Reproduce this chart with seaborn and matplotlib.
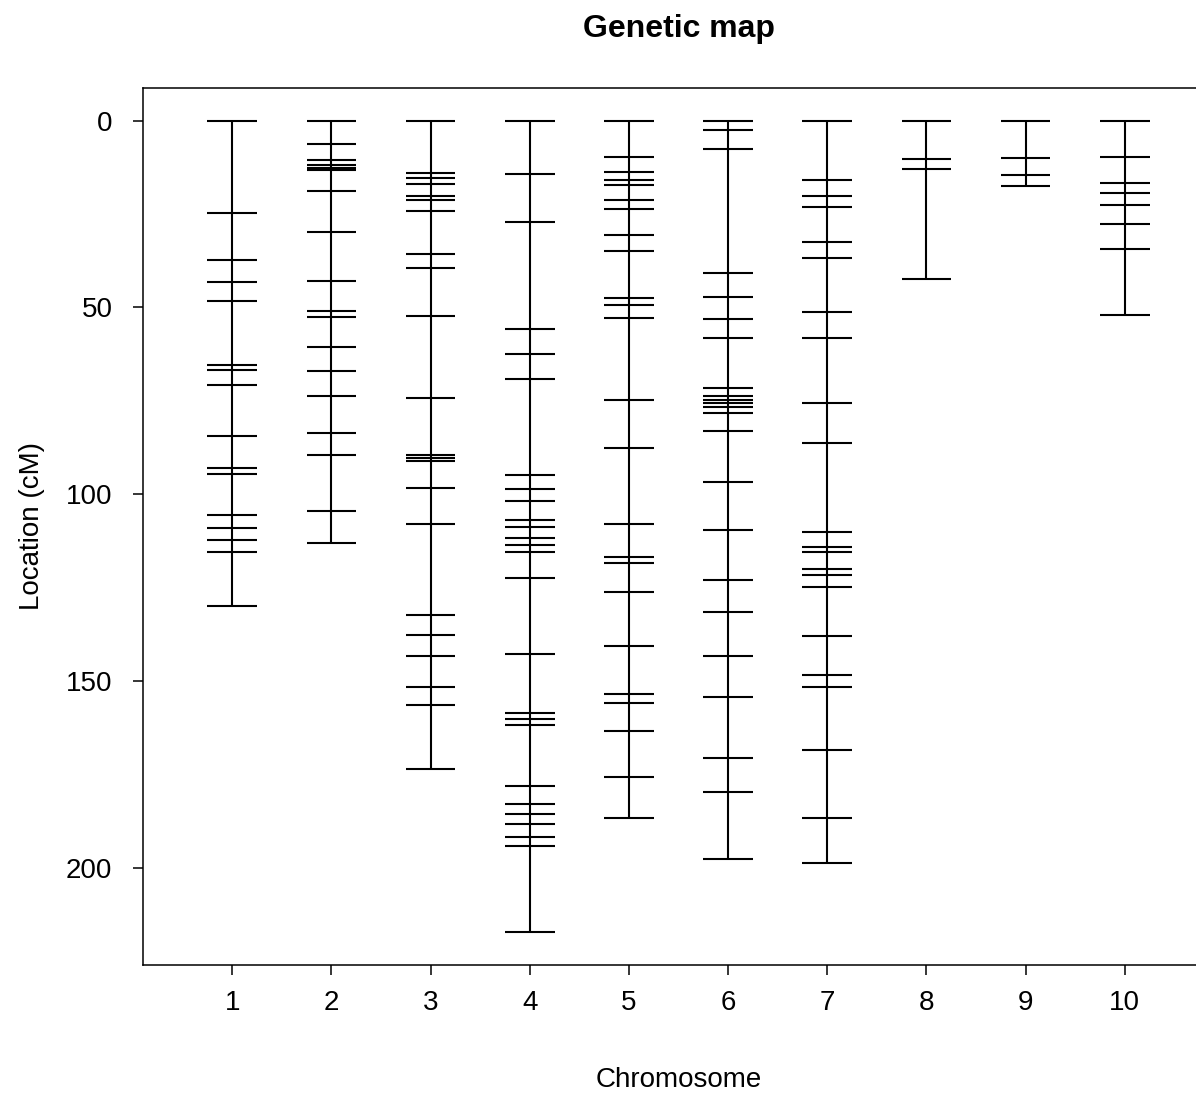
import numpy as np
import pandas as pd
import matplotlib
matplotlib.use("Agg")
import matplotlib.pyplot as plt
import seaborn as sns

chromosomes = ["1", "2", "3", "4", "5", "6", "7", "8", "9", "10"]

chr1 = [0, 24.8, 37.3, 43.2, 48.2, 65.5, 66.8, 70.8, 84.5, 92.9, 94.5, 105.5, 109.0, 112.3, 115.6, 129.8]
chr2 = [0, 6.3, 10.5, 11.9, 12.6, 13.3, 18.9, 29.9, 43.0, 51.1, 52.5, 60.6, 67.1, 73.6, 83.6, 89.4, 104.6, 113.0]
chr3 = [0, 14.0, 15.5, 16.9, 20.3, 21.3, 24.3, 35.6, 39.6, 52.2, 74.3, 89.4, 90.4, 91.0, 98.4, 108.0,
        132.4, 137.7, 143.2, 151.7, 156.3, 173.5]
chr4 = [0, 14.4, 27.2, 55.8, 62.4, 69.1, 95.0, 98.6, 101.7, 106.9, 108.8, 111.8, 113.7, 115.5, 122.3, 142.7,
        158.5, 160.1, 161.9, 178.1, 183.0, 185.6, 188.2, 191.7, 194.2, 217.3]
chr5 = [0, 9.8, 13.9, 15.8, 17.2, 21.2, 23.8, 30.7, 34.8, 47.4, 49.5, 52.8, 74.8, 87.6, 107.9, 116.9, 118.5,
        126.2, 140.7, 153.4, 155.9, 163.5, 175.7, 186.6]
chr6 = [0, 2.5, 7.7, 40.8, 47.3, 53.0, 58.2, 71.7, 73.6, 74.7, 75.7, 76.8, 78.4, 83.1, 96.8, 109.6, 123.0,
        131.4, 143.4, 154.3, 170.5, 179.6, 197.5]
chr7 = [0, 16.0, 20.1, 23.1, 32.4, 36.7, 51.2, 58.2, 75.5, 86.2, 110.2, 114.1, 115.5, 120.1, 121.7, 124.9,
        138.0, 148.5, 151.7, 168.5, 186.7, 198.6]
chr8 = [0, 10.4, 13.0, 42.3]
chr9 = [0, 10.0, 14.7, 17.6]
chr10 = [0, 9.7, 16.6, 19.5, 22.7, 27.7, 34.5, 52.1]

markers = [chr1, chr2, chr3, chr4, chr5, chr6, chr7, chr8, chr9, chr10]

rows = []
for i, (name, pos) in enumerate(zip(chromosomes, markers)):
    for p in pos:
        rows.append({"chr": name, "idx": i + 1, "pos": p})
df = pd.DataFrame(rows)

sns.set_style("ticks")
plt.rcParams["font.family"] = ["Liberation Sans", "DejaVu Sans"]
plt.rcParams["text.color"] = "black"
plt.rcParams["axes.labelcolor"] = "black"

W, H = 1196, 1094
fig = plt.figure(figsize=(W / 100, H / 100), dpi=100)
ax = fig.add_axes([143 / W, (H - 965) / H, (1214 - 143) / W, (965 - 88) / H])

# chromosome backbones
span = df.groupby("idx")["pos"].agg(["min", "max"]).reset_index()
ax.vlines(span["idx"], span["min"], span["max"], color="black", lw=1.5)
# marker ticks
ax.hlines(df["pos"], df["idx"] - 0.25, df["idx"] + 0.25, color="black", lw=1.5)

ax.set_xlim(0.1, 10.9)
ax.set_ylim(226.0, -8.7)
ax.set_xticks(range(1, 11))
ax.set_xticklabels(chromosomes)
ax.set_yticks([0, 50, 100, 150, 200])

for s in ax.spines.values():
    s.set_color("black")
    s.set_linewidth(1.1)
ax.tick_params(axis="both", length=7, width=1.1, color="black", labelsize=20, labelcolor="black")
ax.tick_params(axis="x", pad=11)
ax.tick_params(axis="y", pad=15)

ax.set_title("Genetic map", fontsize=23, fontweight="bold", pad=37, color="black")
ax.set_xlabel("Chromosome", fontsize=20, labelpad=37)
ax.set_ylabel("Location (cM)", fontsize=20, labelpad=15)

fig.savefig("out.png", dpi=100)
